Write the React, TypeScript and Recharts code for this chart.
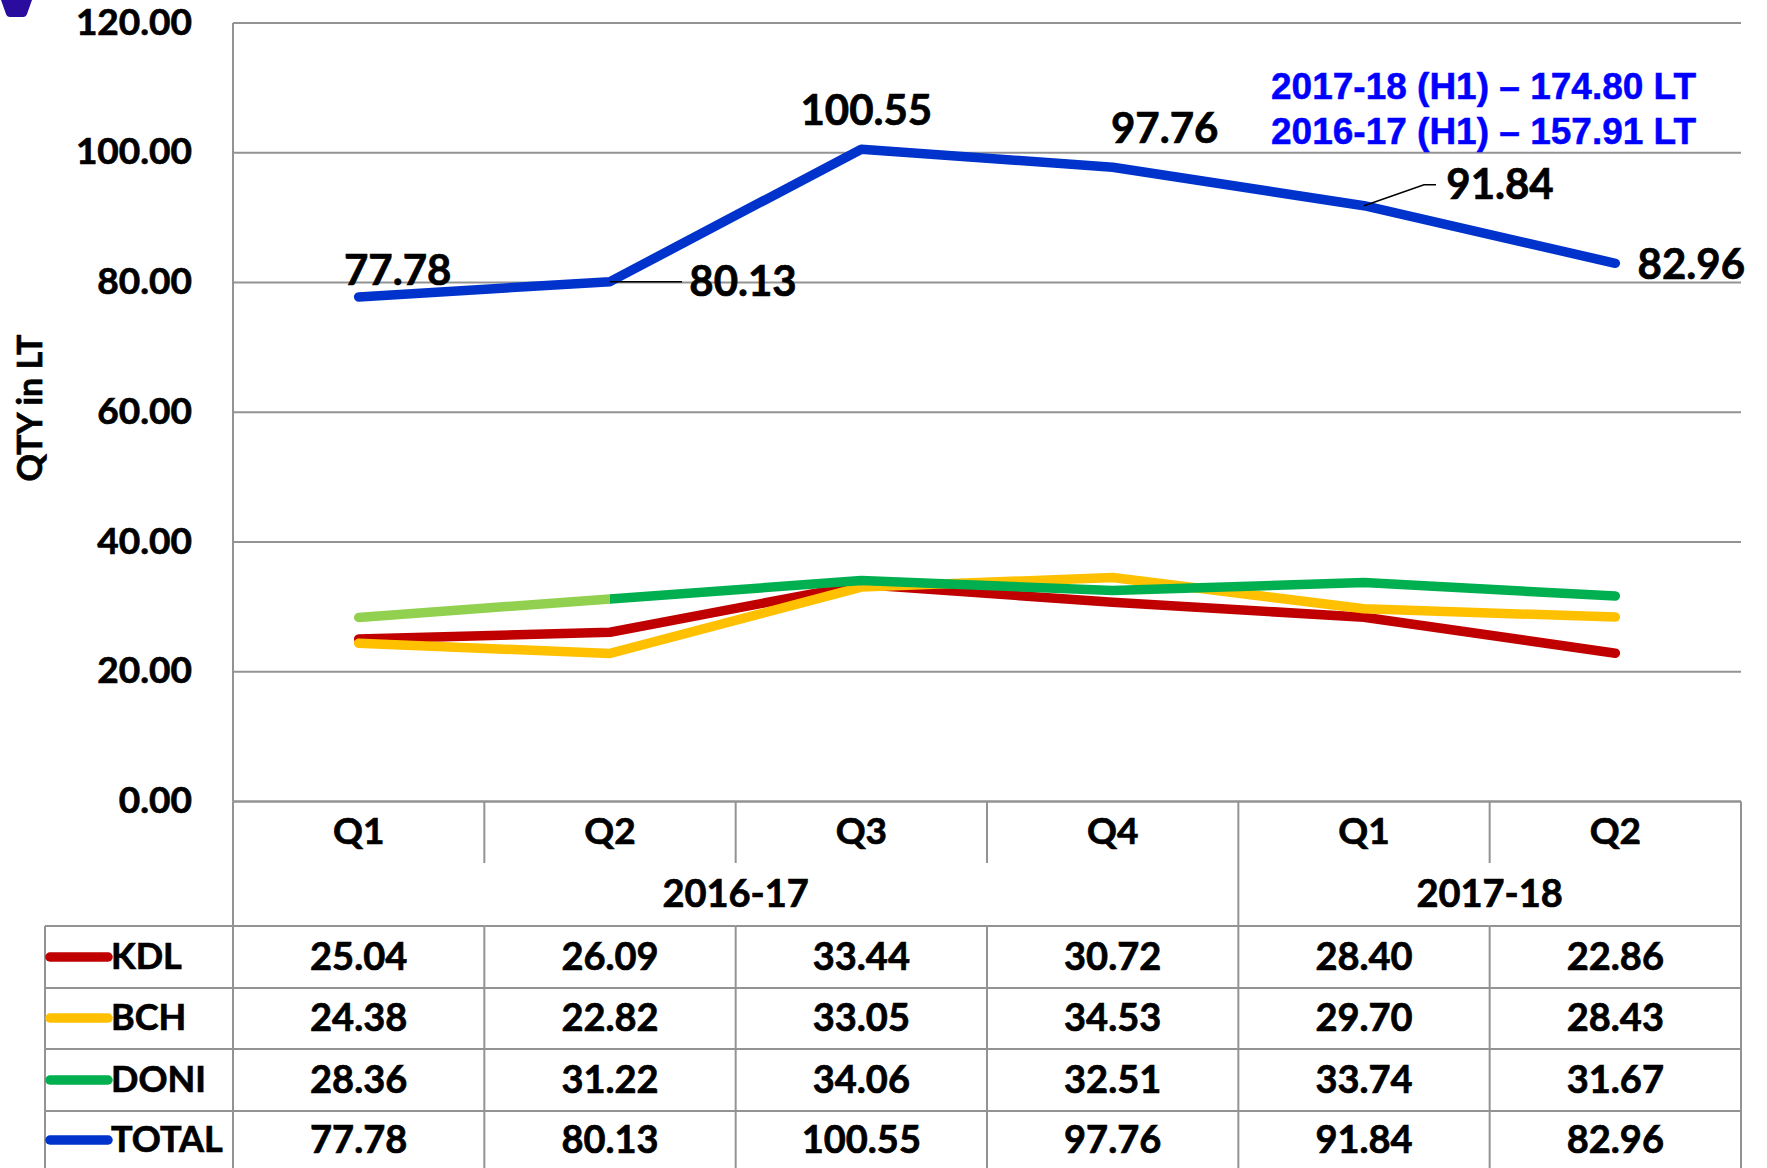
import { LineChart, Line, XAxis, YAxis, CartesianGrid, LabelList } from "recharts";

// categories
const QUARTERS = ["Q1", "Q2", "Q3", "Q4", "Q1", "Q2"];
const YEARS = [
  { label: "2016-17", span: 4 },
  { label: "2017-18", span: 2 },
];

// series values (QTY in LT)
const KDL = [25.04, 26.09, 33.44, 30.72, 28.4, 22.86];
const BCH = [24.38, 22.82, 33.05, 34.53, 29.7, 28.43];
const DONI = [28.36, 31.22, 34.06, 32.51, 33.74, 31.67];
const TOTAL = [77.78, 80.13, 100.55, 97.76, 91.84, 82.96];

const Y_TICKS = [0, 20, 40, 60, 80, 100, 120];
const SUMMARY = ["2017-18 (H1) – 174.80 LT", "2016-17 (H1) – 157.91 LT"];

const SERIES = [
  { key: "KDL", color: "#C00000", values: KDL },
  { key: "BCH", color: "#FFC000", values: BCH },
  { key: "DONI", color: "#00B050", values: DONI },
  { key: "TOTAL", color: "#0033CC", values: TOTAL },
];

const data = QUARTERS.map((q, i) => {
  const row: Record<string, string | number> = { q };
  SERIES.forEach((s) => (row[s.key] = s.values[i]));
  return row;
});

// layout
const W = 1767;
const H = 1168;
const PLOT_LEFT = 233;
const PLOT_RIGHT = 1741;
const PLOT_TOP = 23;
const PLOT_BOTTOM = 801.5;
const HB = (PLOT_RIGHT - PLOT_LEFT) / QUARTERS.length / 2;
const GRID = "#939393";
const FONT = "Lato, 'Open Sans', sans-serif";
const TXT = { fontFamily: FONT, fontWeight: 700, fill: "#000", stroke: "#000", strokeWidth: 0.7 };
const Q_Y = 829;
const Q_SEP_END = 863;
const YEAR_Y = 892;
const TABLE_TOP = 926;
const ROW_LINES = [926, 988, 1049, 1111];
const ROW_CENTERS = [955, 1016, 1078, 1138];
const LEGEND_LEFT = 45;

// label placement for TOTAL data labels (offset from point)
const TOTAL_LABEL_POS = [
  { dx: 39, dy: -28 },
  { dx: 133, dy: -2, leader: [[0, 0], [72, 0]] },
  { dx: 5, dy: -40 },
  { dx: 52, dy: -40 },
  { dx: 136, dy: -23, leader: [[0, 0], [60, -21], [72, -21]] },
  { dx: 76, dy: 0 },
];

const groupStarts: Record<number, { label: string; span: number }> = {};
let acc = 0;
YEARS.forEach((y) => {
  groupStarts[acc] = y;
  acc += y.span;
});

function vline(x: number, y1: number, y2: number, key: string) {
  return <line key={key} x1={x} x2={x} y1={y1} y2={y2} stroke={GRID} strokeWidth={2} />;
}
function hline(x1: number, x2: number, y: number, key: string) {
  return <line key={key} x1={x1} x2={x2} y1={y} y2={y} stroke={GRID} strokeWidth={2} />;
}

function CategoryTick(props: any) {
  const { x, payload } = props;
  const i: number = props.index ?? payload.index;
  const xl = x - HB;
  const xr = x + HB;
  const els: any[] = [];

  els.push(
    <text key="q" x={x} y={Q_Y} textAnchor="middle" dominantBaseline="central" fontSize={37} {...TXT}>
      {payload.value}
    </text>
  );

  if (i === 0 || groupStarts[i]) {
    els.push(vline(xl, PLOT_BOTTOM, H, "l"));
  } else {
    els.push(vline(xl, PLOT_BOTTOM, Q_SEP_END, "l1"));
    els.push(vline(xl, TABLE_TOP, H, "l2"));
  }
  if (i === QUARTERS.length - 1) els.push(vline(xr, PLOT_BOTTOM, H, "r"));

  ROW_LINES.forEach((y, r) => els.push(hline(xl, xr, y, `h${r}`)));

  SERIES.forEach((s, r) =>
    els.push(
      <text key={`v${r}`} x={x} y={ROW_CENTERS[r]} textAnchor="middle" dominantBaseline="central"
        fontSize={38} {...TXT}>
        {s.values[i].toFixed(2)}
      </text>
    )
  );

  const g = groupStarts[i];
  if (g) {
    els.push(
      <text key="yr" x={x + (g.span - 1) * HB} y={YEAR_Y} textAnchor="middle" dominantBaseline="central"
        fontSize={38} {...TXT}>
        {g.label}
      </text>
    );
  }

  if (i === 0) {
    els.push(vline(LEGEND_LEFT, TABLE_TOP, H, "ll"));
    ROW_LINES.forEach((y, r) => els.push(hline(LEGEND_LEFT, xl, y, `lh${r}`)));
    SERIES.forEach((s, r) => {
      els.push(
        <line key={`k${r}`} x1={50} x2={108} y1={ROW_CENTERS[r] + 2} y2={ROW_CENTERS[r] + 2}
          stroke={s.color} strokeWidth={9.5} strokeLinecap="round" />
      );
      els.push(
        <text key={`n${r}`} x={111} y={ROW_CENTERS[r]} dominantBaseline="central" fontSize={36} {...TXT}>
          {s.key}
        </text>
      );
    });
  }
  return <g>{els}</g>;
}

function ValueTick(props: any) {
  const { y, payload } = props;
  return (
    <text x={192} y={y - 3} textAnchor="end" dominantBaseline="central" fontSize={37} {...TXT}>
      {Number(payload.value).toFixed(2)}
    </text>
  );
}

function TotalLabel(props: any) {
  const { x, y, value, index } = props;
  const pos = TOTAL_LABEL_POS[index];
  if (!pos) return null;
  return (
    <g>
      {pos.leader && (
        <polyline
          points={pos.leader.map(([a, b]) => `${x + a},${y + b}`).join(" ")}
          fill="none" stroke="#000" strokeWidth={1.5}
        />
      )}
      <text x={x + pos.dx} y={y + pos.dy} textAnchor="middle" dominantBaseline="central" fontSize={42} {...TXT}>
        {Number(value).toFixed(2)}
      </text>
    </g>
  );
}

export default function App() {
  return (
    <div style={{ position: "absolute", left: 0, top: 0, width: W, height: H, background: "#fff" }}>
      <svg width={34} height={20} style={{ position: "absolute", left: 0, top: 0 }}>
        <path d="M1 0 L32 0 L27 14 Q26 17 23 17 L10 17 Q7 17 6 14 Z" fill="#2A0C9E" />
      </svg>
      <LineChart width={W} height={H} data={data}
        margin={{ top: PLOT_TOP, right: W - PLOT_RIGHT, bottom: 0, left: 0 }}>
        <defs>
          <linearGradient id="doniStroke" x1="0" y1="0" x2="1" y2="0">
            <stop offset="0" stopColor="#92D050" />
            <stop offset="0.2" stopColor="#92D050" />
            <stop offset="0.2" stopColor="#00B050" />
            <stop offset="1" stopColor="#00B050" />
          </linearGradient>
        </defs>
        <CartesianGrid vertical={false} stroke={GRID} strokeWidth={2} />
        <XAxis dataKey="q" interval={0} height={H - PLOT_BOTTOM} tickLine={false}
          padding={{ left: HB, right: HB }}
          axisLine={{ stroke: GRID, strokeWidth: 2 }} tick={<CategoryTick />} />
        <YAxis domain={[0, 120]} ticks={Y_TICKS} width={PLOT_LEFT} tickLine={false}
          axisLine={{ stroke: GRID, strokeWidth: 2 }} tick={<ValueTick />}
          label={{
            content: () => (
              <text x={28} y={408} transform="rotate(-90 28 408)" textAnchor="middle"
                dominantBaseline="central" fontSize={34} {...TXT}>
                QTY in LT
              </text>
            ),
          }}
        />
        {SERIES.map((s) => (
          <Line key={s.key} dataKey={s.key} type="linear"
            stroke={s.key === "DONI" ? "url(#doniStroke)" : s.color}
            strokeWidth={9.5} strokeLinecap="round" strokeLinejoin="round"
            dot={false} activeDot={false} isAnimationActive={false}>
            {s.key === "TOTAL" && <LabelList dataKey="TOTAL" content={<TotalLabel />} />}
          </Line>
        ))}
      </LineChart>
      {SUMMARY.map((t, i) => (
        <div key={t} style={{
          position: "absolute", left: 1271, top: 67 + i * 45, fontFamily: "'Liberation Sans', Arial, sans-serif",
          fontWeight: 700, fontSize: 37, lineHeight: "40px", color: "#0000FF", whiteSpace: "nowrap",
          WebkitTextStroke: "0.5px #0000FF",
        }}>
          {t}
        </div>
      ))}
    </div>
  );
}
